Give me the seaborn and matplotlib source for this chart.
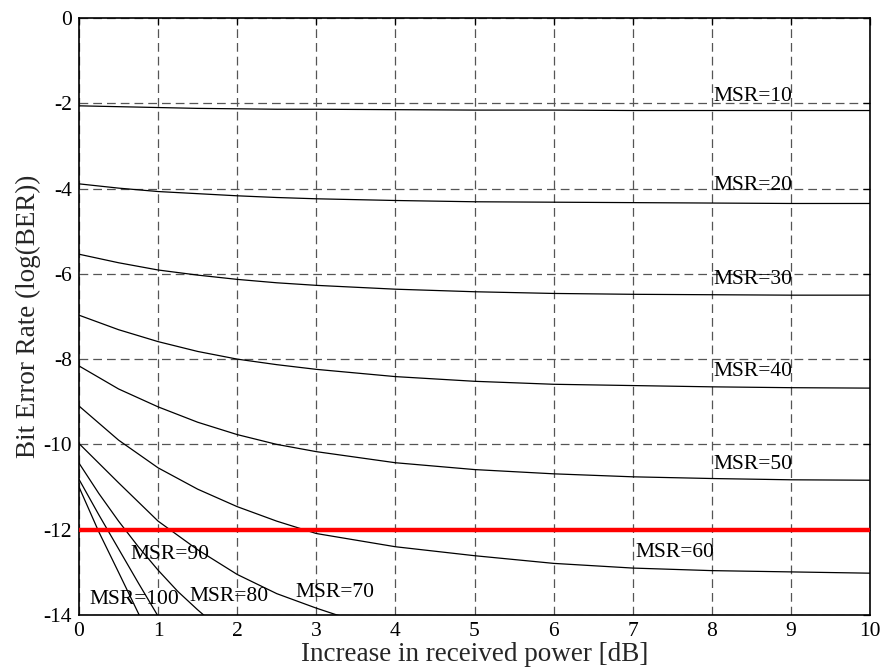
import numpy as np
import pandas as pd
import matplotlib
matplotlib.use("Agg")
import matplotlib.pyplot as plt
import seaborn as sns

# ---- data ----
x_main = [0, 0.5, 1, 1.5, 2, 2.5, 3, 4, 5, 6, 7, 8, 9, 10]
msr10 = [-2.06, -2.08, -2.10, -2.12, -2.13, -2.14, -2.14, -2.15, -2.16, -2.16, -2.17, -2.17, -2.17, -2.17]
msr20 = [-3.89, -3.99, -4.07, -4.12, -4.17, -4.21, -4.24, -4.28, -4.31, -4.32, -4.33, -4.34, -4.35, -4.35]
msr30 = [-5.54, -5.74, -5.91, -6.03, -6.13, -6.21, -6.27, -6.36, -6.42, -6.46, -6.48, -6.49, -6.50, -6.50]
msr40 = [-6.97, -7.31, -7.59, -7.82, -8.00, -8.13, -8.24, -8.41, -8.52, -8.59, -8.62, -8.65, -8.67, -8.68]
msr50 = [-8.16, -8.70, -9.12, -9.48, -9.77, -10.00, -10.17, -10.43, -10.59, -10.69, -10.76, -10.80, -10.83, -10.84]
msr60 = [-9.10, -9.90, -10.55, -11.05, -11.46, -11.80, -12.09, -12.40, -12.61, -12.79, -12.90, -12.96, -12.99, -13.02]

x70 = [0, 0.5, 1.0, 1.5, 2.0, 2.5, 3.0, 3.26, 3.5]
msr70 = [-9.98, -10.90, -11.80, -12.47, -13.05, -13.50, -13.84, -14.0, -14.12]
x80 = [0, 0.25, 0.5, 0.75, 1.0, 1.25, 1.5, 1.75]
msr80 = [-10.44, -11.15, -11.80, -12.40, -12.95, -13.45, -13.88, -14.28]
x90 = [0, 0.25, 0.5, 0.75, 1.0, 1.1]
msr90 = [-10.82, -11.65, -12.45, -13.25, -14.03, -14.33]
x100 = [0, 0.25, 0.5, 0.75, 0.85]
msr100 = [-11.0, -12.05, -13.0, -13.96, -14.33]

threshold = -12

labels = ["MSR=10", "MSR=20", "MSR=30", "MSR=40", "MSR=50",
          "MSR=60", "MSR=70", "MSR=80", "MSR=90", "MSR=100"]
label_x = [8.02, 8.02, 8.02, 8.02, 8.02, 7.03, 2.74, 1.39, 0.65, 0.13]
label_y = [-1.85, -3.94, -6.14, -8.29, -10.48, -12.54, -13.48, -13.57, -12.59, -13.63]

x_ticks = [0, 1, 2, 3, 4, 5, 6, 7, 8, 9, 10]
y_ticks = [0, -2, -4, -6, -8, -10, -12, -14]

series = [
    (x_main, msr10), (x_main, msr20), (x_main, msr30), (x_main, msr40),
    (x_main, msr50), (x_main, msr60), (x70, msr70), (x80, msr80),
    (x90, msr90), (x100, msr100),
]

frames = []
for name, (xs, ys) in zip(labels, series):
    frames.append(pd.DataFrame({"x": xs, "y": ys, "msr": name}))
df = pd.concat(frames, ignore_index=True)

# ---- style ----
sns.set_theme(style="white")
plt.rcParams["font.family"] = ["Liberation Serif", "DejaVu Serif"]

fig = plt.figure(figsize=(8.82, 6.71), dpi=100)
ax = fig.add_axes([0.0896, 0.0835, 0.8968, 0.8897])

sns.lineplot(data=df, x="x", y="y", units="msr", estimator=None,
             color="black", linewidth=0.9, sort=False, ax=ax, legend=False)

ax.axhline(threshold, color="#ff0000", linewidth=3.2, zorder=5)

for t, tx, ty in zip(labels, label_x, label_y):
    ax.text(tx, ty, t, fontsize=15.5, va="center", ha="left", color="black",
            zorder=6)

ax.set_xlim(0, 10)
ax.set_ylim(-14, 0)
ax.set_xticks(x_ticks)
ax.set_yticks(y_ticks)
ax.set_xticklabels([str(v) for v in x_ticks])
ax.set_yticklabels([str(v) for v in y_ticks])

ax.grid(True, linestyle=(0, (7, 4)), color="#555555", linewidth=0.9)
ax.set_axisbelow(True)

ax.tick_params(direction="in", top=True, right=True, length=5, width=0.9,
               labelsize=15.5, colors="black", pad=5)
for s in ax.spines.values():
    s.set_color("black")
    s.set_linewidth(1.2)
    s.set_visible(True)

ax.set_xlabel("Increase in received power [dB]", fontsize=19.5, labelpad=1)
ax.set_ylabel("Bit Error Rate (log(BER))", fontsize=19.5, labelpad=2)

fig.savefig("out.png", dpi=100)
